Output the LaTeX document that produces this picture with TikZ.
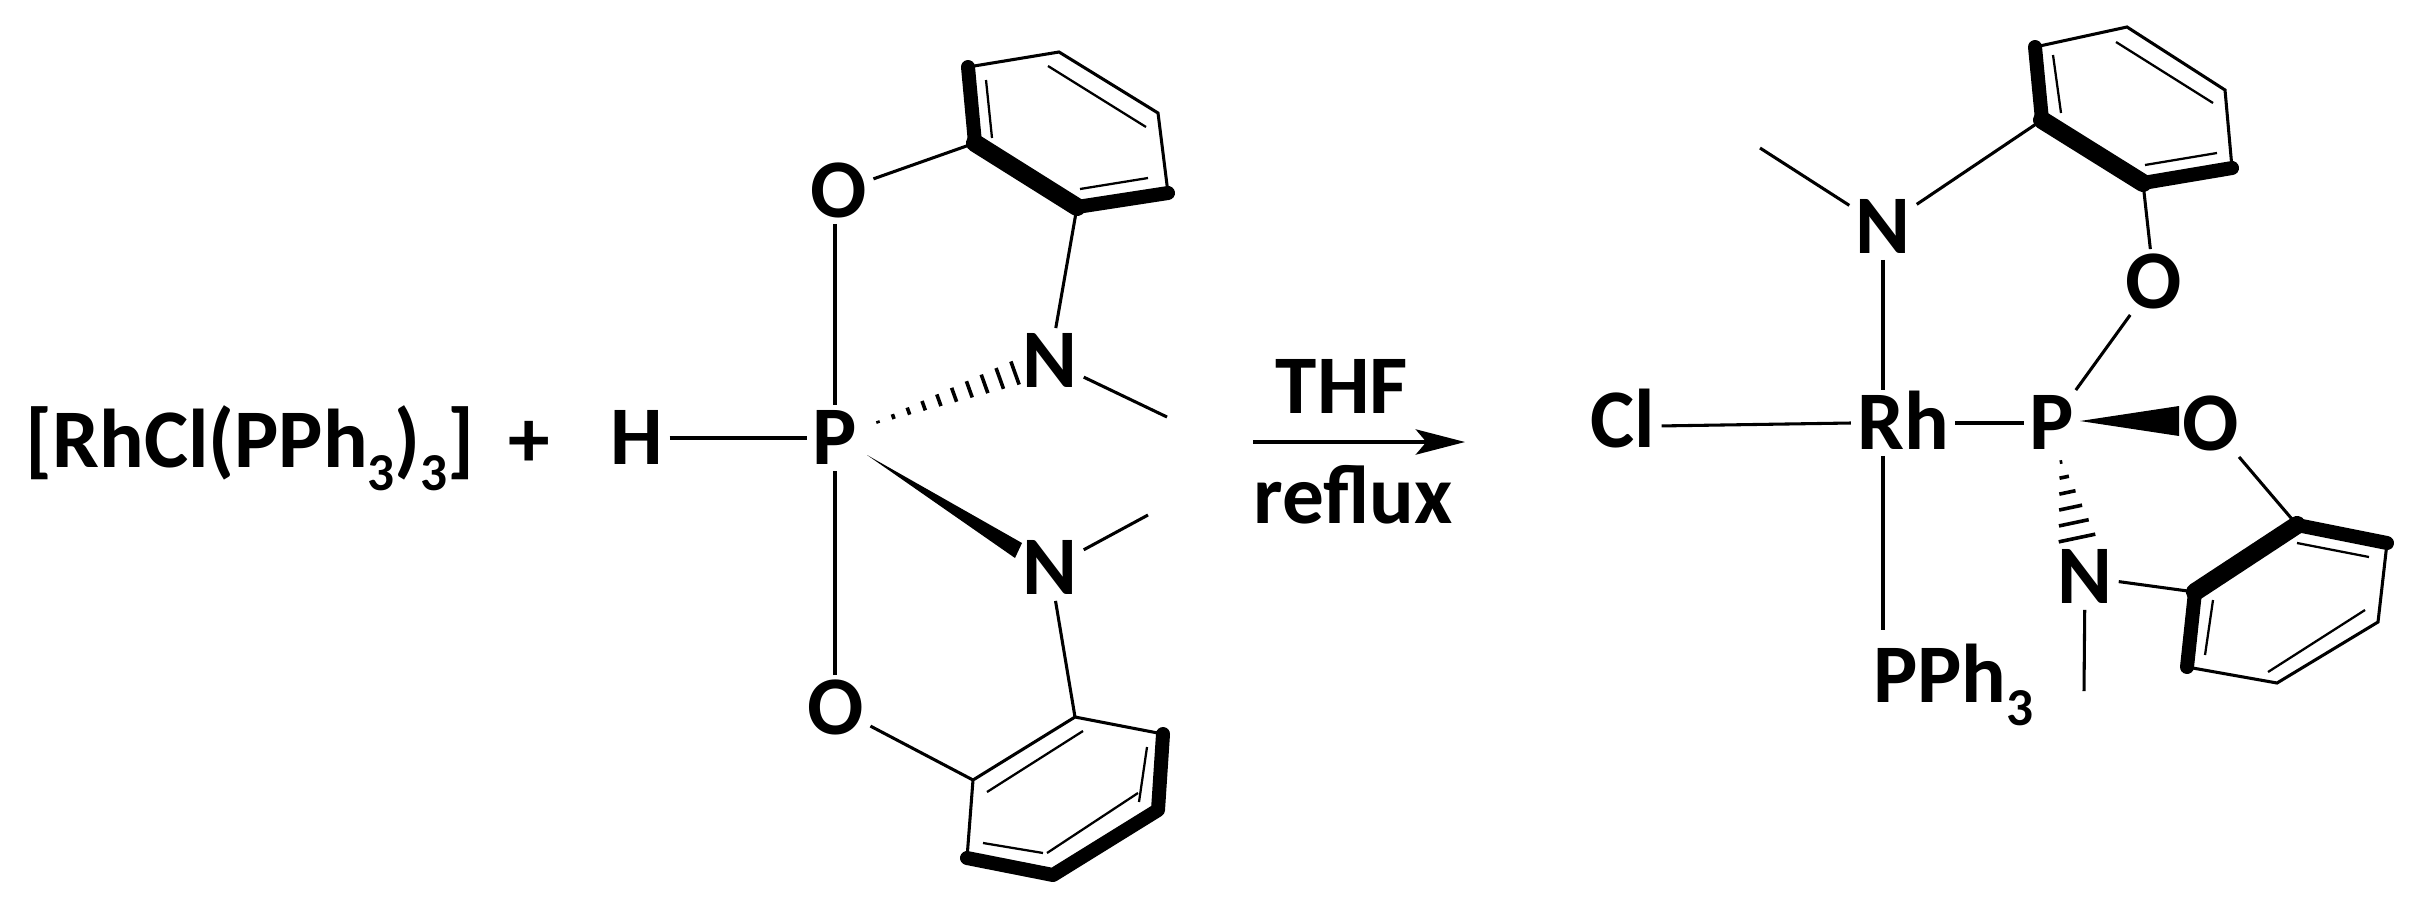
\documentclass[tikz,border=0pt]{standalone}
\usepackage{fontspec}
\setmainfont{Carlito}
\usetikzlibrary{arrows.meta,calc}
\tikzset{
  atom/.style={font=\fontsize{62.5}{72}\selectfont\bfseries, text height=40pt, text depth=0pt, inner sep=4.5pt},
  plain/.style={font=\fontsize{62.5}{72}\selectfont\bfseries, text height=40pt, text depth=0pt, inner sep=0pt},
  bond/.style={line width=2.3pt},
  innerbond/.style={line width=1.7pt},
  boldbond/.style={line width=10.5pt, line cap=round, line join=round},
  heavybond/.style={line width=13.5pt, line cap=round, line join=round},
  hashline/.style={line width=2.7pt}
}
\newcommand{\lowthree}{\raisebox{-0.27em}{\fontsize{40}{42}\selectfont 3}}
\newcommand{\hashbond}[4]{%
  \coordinate (hfar) at ($(#1)!1.5!(#2)$);
  \foreach \t in {0,...,#3} {
    \pgfmathsetmacro\hf{\t/#3}
    \pgfmathsetmacro\hw{\hf*#4+1}
    \draw [hashline] ($(#1)!\hf!(#2)!\hw pt!90:(hfar)$) -- ($(#1)!\hf!(#2)!\hw pt!-90:(hfar)$);
  }}
\begin{document}
\begin{tikzpicture}[x=0.75pt,y=0.75pt,yscale=-1,xscale=1]
\useasboundingbox (0,0) rectangle (2412,908);

% Text Node
\node [plain,anchor=west] (rhcl) at (25,441) {[RhCl(PPh\lowthree)\lowthree]};
\node [plain] (plus) at (529,441) {+};
\node [atom] (h) at (637,438) {H};
\node [atom] (pa) at (835,438) {P};
\node [atom] (oa) at (839,191) {O};
\node [atom] (ob) at (836,708) {O};
\node [atom] (na) at (1050,361) {N};
\node [atom] (nb) at (1050,568) {N};
\node [plain] (thf) at (1342,387) {THF};
\node [plain] (reflux) at (1353,497) {reflux};
\node [atom] (cl) at (1623,421) {Cl};
\node [atom] (rh) at (1903,423) {Rh};
\node [atom] (pb) at (2052,423) {P};
\node [atom] (oc) at (2154,282) {O};
\node [atom] (od) at (2211,424) {O};
\node [atom] (nc) at (1883,227) {N};
\node [atom] (nd) at (2085,577) {N};
\node [plain,anchor=west] (pph) at (1873,676) {PPh\lowthree};

% Ring corners
\coordinate (a1) at (968,67);
\coordinate (a2) at (975,143);
\coordinate (a3) at (1077,207);
\coordinate (a4) at (1168,193);
\coordinate (a5) at (1158,113);
\coordinate (a6) at (1059,52);
\coordinate (b1) at (1075,717);
\coordinate (b2) at (1163,734);
\coordinate (b3) at (1158,810);
\coordinate (b4) at (1053,875);
\coordinate (b5) at (967,858);
\coordinate (b6) at (973,780);
\coordinate (c1) at (2035,47);
\coordinate (c2) at (2042,120);
\coordinate (c3) at (2143,183);
\coordinate (c4) at (2232,168);
\coordinate (c5) at (2225,90);
\coordinate (c6) at (2127,27);
\coordinate (d1) at (2297,525);
\coordinate (d2) at (2387,543);
\coordinate (d3) at (2378,622);
\coordinate (d4) at (2277,683);
\coordinate (d5) at (2187,667);
\coordinate (d6) at (2195,592);

% Free ends
\coordinate (mea) at (1167,417);
\coordinate (meb) at (1148,515);
\coordinate (mec) at (1760,148);
\coordinate (med) at (2084,691);
\coordinate (arrowstart) at (1253,442);
\coordinate (arrowend) at (1465,442);

% Upper ring of the ligand
\draw [bond] (a1) -- (a6) -- (a5) -- (a4);
\draw [heavybond] (a2) -- (a3);
\draw [boldbond] (a1) -- (a2) (a3) -- (a4);
\draw [innerbond] (986,80) -- (992,138);
\draw [innerbond] (1048,66) -- (1146,127);
\draw [innerbond] (1080,189) -- (1148,178);

% Lower ring of the ligand
\draw [bond] (b5) -- (b6) -- (b1) -- (b2);
\draw [boldbond] (b2) -- (b3) -- (b4) -- (b5);
\draw [innerbond] (987,792) -- (1083,731);
\draw [innerbond] (1147,747) -- (1139,802);
\draw [innerbond] (1138,793) -- (1047,853);
\draw [innerbond] (983,843) -- (1043,853);

% Ring on the N of the product
\draw [bond] (c1) -- (c6) -- (c5) -- (c4);
\draw [heavybond] (c2) -- (c3);
\draw [boldbond] (c1) -- (c2) (c3) -- (c4);
\draw [innerbond] (2053,55) -- (2061,113);
\draw [innerbond] (2116,42) -- (2213,103);
\draw [innerbond] (2145,165) -- (2217,153);

% Ring on the O of the product
\draw [bond] (d2) -- (d3) -- (d4) -- (d5);
\draw [heavybond] (d6) -- (d1);
\draw [boldbond] (d5) -- (d6) (d1) -- (d2);
\draw [innerbond] (2297,543) -- (2369,557);
\draw [innerbond] (2365,610) -- (2268,672);
\draw [innerbond] (2213,600) -- (2205,655);

% Straight Lines
\draw [bond] (h) -- (pa);
\draw [bond] (pa |- oa.south) -- (pa.north);
\draw [bond] (pa |- ob.north) -- (pa.south);
\draw [bond] (oa) -- (a2);
\draw [bond] (ob) -- (b6);
\draw [bond] (na) -- (a3);
\draw [bond] (nb) -- (b1);
\draw [bond] (na) -- (mea);
\draw [bond] (nb) -- (meb);
\draw [bond] ([yshift=3.7pt]cl.east) -- (rh.west);
\draw [bond] (rh) -- (pb);
\draw [bond] (nc) -- (mec);
\draw [bond] (nc) -- (c2);
\draw [bond] (nc.south) -- (nc |- rh.north);
\draw [bond,shorten >=14pt] (nc |- rh.south) -- (nc |- pph.north);
\draw [bond] (oc) -- (c3);
\draw [bond] (oc) -- (pb);
\draw [bond] (od) -- (d1);
\draw [bond] (nd) -- (d6);
\draw [bond] (nd) -- (med);

% Wedges
\coordinate (wa1) at (867,455);
\coordinate (wa2) at (1022,543);
\coordinate (wa3) at (1015,558);
\fill (wa1) -- (wa2) -- (wa3) -- cycle;
\coordinate (wb1) at (2080,421);
\coordinate (wb2) at (2179,406);
\coordinate (wb3) at (2179,436);
\fill (wb1) -- (wb2) -- (wb3) -- cycle;

% Hashed bonds
\coordinate (ha1) at (878,422);
\coordinate (ha2) at (1015,373);
\coordinate (hb1) at (2061,462);
\coordinate (hb2) at (2077,538);
\hashbond{ha1}{ha2}{9}{8.2}
\hashbond{hb1}{hb2}{5}{13}

% Arrow
\draw [bond,-{Stealth[length=37pt,width=19pt,inset=8pt]}] (arrowstart) -- (arrowend);
\end{tikzpicture}
\end{document}
